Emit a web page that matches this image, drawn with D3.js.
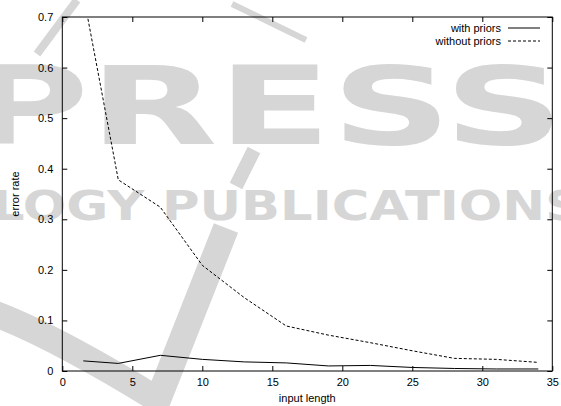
<!DOCTYPE html>
<html>
<head>
<meta charset="utf-8">
<script src="https://cdn.jsdelivr.net/npm/d3@7"></script>
<style>
  html, body { margin: 0; padding: 0; background: #fff; }
  svg { display: block; font-family: "Liberation Sans", Arial, sans-serif; }
</style>
</head>
<body>
<svg id="chart" width="561" height="406"></svg>
<script>
// Error rate as a function of input length, with and without priors
const inputLength   = [1.5, 4, 7, 10, 13, 16, 19, 22, 25, 28, 31, 34];
const withPriors    = [0.020, 0.015, 0.031, 0.023, 0.018, 0.016, 0.010, 0.011, 0.007, 0.005, 0.004, 0.004];
const withoutPriors = [0.745, 0.378, 0.324, 0.209, 0.145, 0.089, 0.071, 0.056, 0.040, 0.025, 0.023, 0.017];
const xTicks = [0, 5, 10, 15, 20, 25, 30, 35];
const yTicks = [0, 0.1, 0.2, 0.3, 0.4, 0.5, 0.6, 0.7];
const seriesNames = ["with priors", "without priors"];

const svg = d3.select("#chart");
const W = 561, H = 406;
const m = { left: 62.3, right: W - 552.3, top: 17, bottom: H - 371 };

const x = d3.scaleLinear().domain([0, 35]).range([m.left, W - m.right]);
const y = d3.scaleLinear().domain([0, 0.7]).range([H - m.bottom, m.top]);

// Publisher watermark in the background
const wmColor = "#d6d6d6";
const wm = svg.append("g").attr("fill", wmColor).attr("stroke", "none")
  .attr("aria-hidden", "true");
wm.append("text")
  .attr("x", -33).attr("y", 144)
  .attr("textLength", 597).attr("lengthAdjust", "spacingAndGlyphs")
  .style("font-family", "'DejaVu Sans', sans-serif")
  .style("font-weight", "bold").style("font-size", "108px")
  .text("PRESS");
wm.append("text")
  .attr("x", -8).attr("y", 220)
  .attr("textLength", 590).attr("lengthAdjust", "spacingAndGlyphs")
  .style("font-family", "'DejaVu Sans', sans-serif")
  .style("font-weight", "bold").style("font-size", "41px")
  .text("LOGY PUBLICATIONS");
const wmStroke = svg.append("g").attr("fill", "none").attr("stroke", wmColor);
wmStroke.append("path").attr("stroke-width", 8).attr("d", "M37,54 L77,0");
wmStroke.append("path").attr("stroke-width", 6).attr("d", "M232,4 L306,40");
wmStroke.append("path").attr("stroke-width", 14).attr("d", "M236,186 L254,150");
wmStroke.append("path").attr("stroke-width", 26).attr("stroke-linejoin", "round")
  .attr("d", "M-10,312 C40,330 110,370 158,400 L226,228");

// Data lines
const line = d3.line().x((d, i) => x(inputLength[i])).y(d => y(d));
svg.append("clipPath").attr("id", "plotClip")
  .append("rect")
  .attr("x", m.left).attr("y", m.top)
  .attr("width", W - m.left - m.right).attr("height", H - m.top - m.bottom);

const plot = svg.append("g").attr("clip-path", "url(#plotClip)");
plot.append("path").datum(withPriors)
  .attr("d", line).attr("fill", "none").attr("stroke", "#000").attr("stroke-width", 1);
plot.append("path").datum(withoutPriors)
  .attr("d", line).attr("fill", "none").attr("stroke", "#000").attr("stroke-width", 1)
  .attr("stroke-dasharray", "3,2");

// Axes with inward ticks, mirrored on top and right
const fmtY = d => d === 0 ? "0" : d3.format(".1f")(d);
const axB = svg.append("g").attr("transform", `translate(0,${y(0)})`)
  .call(d3.axisBottom(x).tickValues(xTicks).tickSize(-5).tickPadding(7).tickFormat(d3.format("d")));
const axT = svg.append("g").attr("transform", `translate(0,${y(0.7)})`)
  .call(d3.axisTop(x).tickValues(xTicks).tickSize(-5).tickFormat(""));
const axL = svg.append("g").attr("transform", `translate(${x(0)},0)`)
  .call(d3.axisLeft(y).tickValues(yTicks).tickSize(-5).tickPadding(9).tickFormat(fmtY));
const axR = svg.append("g").attr("transform", `translate(${x(35)},0)`)
  .call(d3.axisRight(y).tickValues(yTicks).tickSize(-5).tickFormat(""));
[axB, axT, axL, axR].forEach(g => {
  g.select(".domain").remove();
  g.selectAll(".tick line").attr("stroke", "#000");
  g.selectAll(".tick text").attr("fill", "#000")
    .style("font-family", "'Liberation Sans', Arial, sans-serif").style("font-size", "11px");
});

// Frame
svg.append("rect")
  .attr("x", x(0)).attr("y", y(0.7))
  .attr("width", x(35) - x(0)).attr("height", y(0) - y(0.7))
  .attr("fill", "none").attr("stroke", "#000").attr("stroke-width", 1);

// Axis titles
svg.append("text")
  .attr("x", (x(0) + x(35)) / 2).attr("y", 402)
  .attr("text-anchor", "middle").style("font-size", "11px")
  .text("input length");
svg.append("text")
  .attr("transform", `translate(19,${(y(0) + y(0.7)) / 2}) rotate(-90)`)
  .attr("text-anchor", "middle").style("font-size", "11px")
  .text("error rate");

// Legend
const legend = svg.append("g");
seriesNames.forEach((name, i) => {
  const ly = 28 + i * 13;
  legend.append("text")
    .attr("x", 501).attr("y", ly + 4)
    .attr("text-anchor", "end").style("font-size", "11px")
    .text(name);
  legend.append("line")
    .attr("x1", 508).attr("x2", 540).attr("y1", ly).attr("y2", ly)
    .attr("stroke", "#000").attr("stroke-width", 1)
    .attr("stroke-dasharray", i === 1 ? "3,2" : null);
});
</script>
</body>
</html>
